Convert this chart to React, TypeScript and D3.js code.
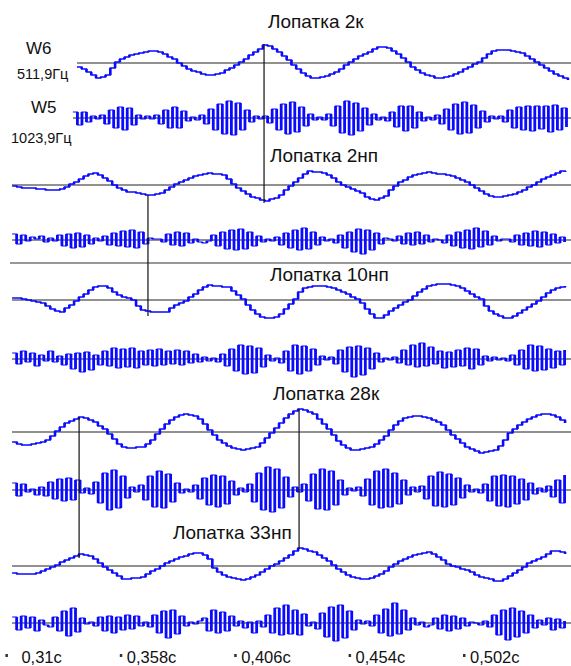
import React from 'react';
import * as d3 from 'd3';

// W6 (511,9Гц) и W5 (1023,9Гц) для каждой лопатки, отсчёты в пикселях амплитуды
const W6_2K = [-4,-6,-9,-12,-15,-14,-12,-5,1,4,6,8,9,10,11,12,12,11,9,6,4,0,-3,-6,-8,-9,-11,-12,-12,-11,-10,-7,-5,-2,1,4,8,11,14,18,17,14,11,7,3,-2,-6,-10,-13,-15,-15,-14,-13,-11,-9,-6,-2,1,4,7,9,11,14,16,16,15,12,9,5,1,-4,-7,-10,-12,-13,-15,-15,-14,-13,-11,-9,-6,-4,-1,1,5,9,12,13,13,13,12,11,10,7,4,1,-2,-5,-8,-11,-13,-15,-17];
const W5_2K = [6,-7,6,-4,2,-1,3,-6,8,-10,11,-12,10,-7,3,-1,2,-1,3,-6,8,-10,11,-10,7,-3,1,-2,3,-6,9,-12,14,-16,17,-17,15,-12,8,-4,2,-1,2,-5,9,-12,14,-16,16,-14,11,-8,4,-2,1,-2,4,-8,12,-15,17,-17,15,-13,10,-7,4,-2,1,-3,6,-9,12,-13,12,-10,6,-3,1,-2,3,-6,9,-12,14,-16,16,-15,13,-10,7,-4,2,-1,2,-4,8,-10,11,-12,12,-13,12,-11,12,-14,13,-12,10,-9];
const W6_2NP = [-1,-2,-3,-3,-3,-4,-4,-5,-5,-5,-4,-2,1,3,6,9,11,12,10,7,4,0,-3,-5,-7,-7,-8,-9,-10,-10,-9,-8,-5,-2,1,3,5,7,9,10,11,12,11,11,10,6,1,-3,-6,-9,-12,-13,-15,-16,-14,-13,-10,-5,-1,3,7,11,14,13,13,12,10,7,3,0,-2,-4,-6,-8,-12,-14,-15,-13,-11,-5,-1,3,5,8,10,11,12,13,12,11,11,10,9,7,5,3,0,-3,-6,-9,-11,-12,-12,-11,-10,-9,-7,-5,-2,0,3,6,8,10,12,14,13];
const W5_2NP = [6,-4,5,-1,3,1,4,-2,2,-1,5,-6,6,-8,7,-7,5,-4,2,-1,4,-5,7,-6,9,-7,10,-8,8,-4,2,1,1,-2,6,-5,8,-6,7,-3,1,-2,-3,-1,5,-6,8,-9,10,-10,11,-9,8,-6,4,-2,1,-1,3,-5,7,-8,10,-10,12,-9,8,-5,3,-1,1,-3,5,-8,8,-12,11,-14,10,-10,7,-4,2,1,-1,4,-4,7,-5,8,-4,5,-2,1,0,-3,5,-6,8,-8,10,-9,12,-7,9,-5,4,-1,1,1,-2,5,-5,7,-6,9,-7,8,-5,6,-3,3,-2];
const W6_10NP = [2,2,1,0,-1,-2,-3,-6,-9,-11,-12,-8,-5,-1,3,6,10,13,14,14,12,8,5,3,2,0,-6,-10,-11,-12,-12,-12,-12,-8,-5,-3,-1,3,6,10,13,15,14,14,13,13,9,5,1,-5,-10,-14,-17,-18,-18,-17,-14,-9,-4,1,8,12,13,14,14,14,13,12,10,8,6,3,1,-3,-9,-14,-18,-18,-15,-11,-8,-5,-2,0,4,8,11,14,15,16,16,16,15,14,12,9,6,3,1,-6,-11,-14,-16,-18,-18,-16,-13,-10,-7,-4,-1,3,7,10,12,13,14];
const W5_10NP = [6,-5,8,-3,6,-7,4,-2,8,-3,3,-6,5,-10,6,-13,7,-11,4,-6,8,-7,11,-9,10,-8,11,-9,8,-6,9,-7,10,-6,8,-5,9,-6,8,-4,5,-3,2,-2,1,-3,5,-7,10,-12,14,-15,13,-14,11,-8,4,-2,1,-4,8,-12,14,-15,13,-12,10,-6,3,-1,2,-5,9,-13,12,-18,13,-16,11,-10,6,-3,1,-1,2,-4,9,-6,14,-8,16,-7,12,-5,8,-9,7,-8,9,-7,11,-10,10,-6,3,-2,2,-1,1,-2,4,-6,9,-10,14,-12,13,-11,10,-9,8,-6,9];
const W6_28K = [-10,-12,-13,-13,-12,-11,-10,-8,-4,1,5,9,11,13,15,14,12,10,6,3,-2,-7,-12,-15,-16,-16,-15,-15,-12,-8,-2,3,8,12,15,17,18,17,16,13,8,2,-3,-8,-11,-14,-16,-17,-18,-17,-16,-15,-11,-6,-1,4,9,14,18,21,23,22,20,18,13,8,3,-3,-9,-13,-16,-18,-18,-17,-16,-15,-12,-8,-4,2,7,11,14,15,16,16,15,14,12,10,7,2,-3,-7,-11,-15,-17,-19,-21,-20,-19,-18,-14,-8,-1,3,7,10,13,15,17,18,18,17,15,12,9];
const W5_28K = [7,-6,6,-2,1,-5,3,-6,8,-9,11,-11,12,-10,10,-3,2,-4,8,-13,17,-20,20,-18,14,-8,3,-2,5,-10,14,-17,19,-18,16,-12,7,-3,1,-2,5,-9,12,-15,15,-17,14,-14,9,-5,2,-2,6,-12,17,-20,23,-22,21,-18,13,-7,3,-2,6,-11,16,-19,21,-20,19,-15,10,-5,2,-1,3,-6,11,-15,19,-18,21,-17,17,-14,10,-5,3,-2,4,-9,14,-16,18,-17,16,-15,12,-8,5,-2,1,-3,6,-11,14,-16,15,-17,14,-14,11,-10,7,-4,2,-2,4,-7,10,-13,15];
const W6_33NP = [-7,-8,-8,-8,-8,-7,-5,-3,-1,1,4,6,8,10,12,11,10,7,3,-1,-4,-7,-10,-13,-13,-12,-12,-11,-8,-5,-3,0,3,5,7,9,10,12,13,13,11,7,-2,-6,-9,-11,-12,-13,-14,-13,-11,-9,-6,-3,0,2,5,8,11,15,18,17,15,14,11,8,5,1,-3,-6,-9,-11,-12,-13,-13,-12,-10,-8,-5,-1,2,5,7,9,11,12,13,14,12,9,6,2,0,-1,-3,-4,-6,-9,-11,-12,-13,-15,-15,-13,-10,-7,-4,-1,3,5,7,9,12,15,15,14,12];
const W5_33NP = [6,-7,7,-5,6,-8,3,-2,-4,6,-8,12,-13,15,-9,5,-1,1,-3,6,-8,7,-10,6,-7,8,-6,7,-3,1,-4,8,-10,12,-15,13,-11,7,-3,1,-1,2,5,-8,13,-10,11,-8,7,-3,2,-5,1,-10,2,-4,8,-10,15,-12,18,-11,13,-12,9,-3,1,-6,10,-14,16,-18,18,-15,12,-7,3,-1,2,-3,8,-10,14,-13,20,-11,13,-7,5,-2,1,-4,-2,5,-6,8,-8,7,-6,5,-3,1,0,-2,2,-4,8,-12,13,-17,15,-14,12,-10,8,-5,3,-2,5,-7,4,-5,2];

const bladeTitles = ['Лопатка 2к', 'Лопатка 2нп', 'Лопатка 10нп', 'Лопатка 28к', 'Лопатка 33нп'];
const tickValues = [0.31, 0.358, 0.406, 0.454, 0.502];
const tickLabels = ['0,31с', '0,358с', '0,406с', '0,454с', '0,502с'];

// шаг отсчётов, с
const DT6 = 0.002;
const DT5 = 0.0019;

const WIDTH = 571;
const HEIGHT = 666;
const BLUE = '#0a0aff';
const FONT = '"Liberation Sans", Arial, sans-serif';

const x = d3.scaleLinear().domain([0.31, 0.502]).range([6.4, 464]);

const traces = [
  { values: W6_2K, t0: 0.3396, dt: DT6, base: 63, lineFrom: 77, hw: 1.6, vw: 2.6 },
  { values: W5_2K, t0: 0.3379, dt: DT5, base: 118, lineFrom: 73, hw: 1.2, vw: 2.8 },
  { values: W6_2NP, t0: 0.3124, dt: DT6, base: 185, lineFrom: 12, hw: 1.6, vw: 2.6 },
  { values: W5_2NP, t0: 0.3124, dt: DT5, base: 240, lineFrom: 12, hw: 1.2, vw: 2.8 },
  { values: W6_10NP, t0: 0.3124, dt: DT6, base: 300, lineFrom: 12, hw: 1.6, vw: 2.6 },
  { values: W5_10NP, t0: 0.3124, dt: DT5, base: 359, lineFrom: 12, hw: 1.2, vw: 2.8 },
  { values: W6_28K, t0: 0.3124, dt: DT6, base: 432, lineFrom: 12, hw: 1.6, vw: 2.6 },
  { values: W5_28K, t0: 0.3124, dt: DT5, base: 490, lineFrom: 12, hw: 1.2, vw: 2.8 },
  { values: W6_33NP, t0: 0.3124, dt: DT6, base: 566, lineFrom: 12, hw: 1.6, vw: 2.6 },
  { values: W5_33NP, t0: 0.3124, dt: DT5, base: 623, lineFrom: 12, hw: 1.2, vw: 2.8 },
];

const yFor = (base: number) => d3.scaleLinear().domain([-30, 30]).range([base + 30, base - 30]);

// вертикальные метки: время, от какого следа/значения до какого
const markers = [
  { t: 0.4181, from: 0, fromV: 19, to: 2, toV: -18 },
  { t: 0.3694, from: 2, fromV: -10, to: 4, toV: -16 },
  { t: 0.3405, from: 6, fromV: 15, to: 8, toV: 8 },
  { t: 0.4328, from: 6, fromV: 23, to: 8, toV: 17 },
];

const titlePos = [
  { x: 268, y: 28 },
  { x: 270, y: 162 },
  { x: 270, y: 281 },
  { x: 273, y: 400 },
  { x: 173, y: 539 },
];

export default function App() {
  return (
    <svg
      width={WIDTH}
      height={HEIGHT}
      style={{ position: 'absolute', left: 0, top: 0, background: '#fff' }}
      fontFamily={FONT}
    >
      <rect width={WIDTH} height={HEIGHT} fill="#fff" />

      {/* базовые линии */}
      {traces.map((tr, i) => (
        <line key={'b' + i} x1={tr.lineFrom} x2={WIDTH} y1={tr.base} y2={tr.base} stroke="#222" strokeWidth={1} />
      ))}
      <line x1={10} x2={WIDTH} y1={263} y2={263} stroke="#333" strokeWidth={1} />

      {/* сигналы: ступенчатая линия + утолщённые вертикальные переходы */}
      {traces.map((tr, i) => {
        const y = yFor(tr.base);
        const xs = (j: number) => x(tr.t0 + j * tr.dt);
        const line = d3
          .line<number>()
          .x((_, j) => xs(j))
          .y((d) => y(d))
          .curve(d3.curveStepAfter);
        const p = d3.path();
        tr.values.forEach((v, j) => {
          if (j === 0 || v === tr.values[j - 1]) return;
          p.moveTo(xs(j), y(tr.values[j - 1]));
          p.lineTo(xs(j), y(v));
        });
        return (
          <g key={'s' + i}>
            <path d={line(tr.values) || ''} fill="none" stroke={BLUE} strokeWidth={tr.hw} />
            <path d={p.toString()} fill="none" stroke={BLUE} strokeWidth={tr.vw} />
          </g>
        );
      })}

      {/* метки */}
      {markers.map((m, i) => {
        const xx = x(m.t);
        return (
          <line
            key={'m' + i}
            x1={xx}
            x2={xx}
            y1={yFor(traces[m.from].base)(m.fromV)}
            y2={yFor(traces[m.to].base)(m.toV)}
            stroke="#111"
            strokeWidth={1.2}
          />
        );
      })}

      {bladeTitles.map((t, i) => (
        <text key={'t' + i} x={titlePos[i].x} y={titlePos[i].y} fontSize={19} fill="#111">
          {t}
        </text>
      ))}

      <text x={26} y={54} fontSize={17} fill="#111">W6</text>
      <text x={17} y={79} fontSize={14.5} fill="#111">511,9Гц</text>
      <text x={31} y={113} fontSize={17} fill="#111">W5</text>
      <text x={11} y={143} fontSize={14.5} fill="#111">1023,9Гц</text>

      {tickValues.map((v, i) => (
        <g key={'k' + i}>
          <rect x={x(v) - 1} y={654} width={2.5} height={3} fill="#333" />
          <text x={x(v) + (i === 0 ? 15 : 6)} y={663} fontSize={16.5} fill="#111">
            {tickLabels[i]}
          </text>
        </g>
      ))}
    </svg>
  );
}
